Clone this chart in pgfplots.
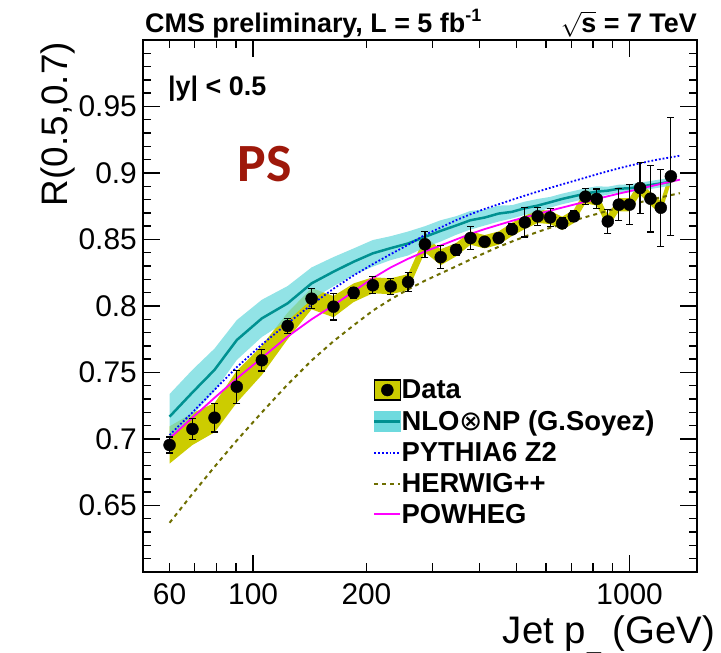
\documentclass[border=0pt]{standalone}
\usepackage{fontspec}
\setmainfont{Liberation Sans}
\newfontfamily\carlito{Carlito}
\newfontfamily\dejavu{DejaVu Sans}
\usepackage{pgfplots}
\pgfplotsset{compat=1.18}
\usepackage{pgfplotstable}
\usepgfplotslibrary{fillbetween}
\usetikzlibrary{calc}

\definecolor{dyellow}{RGB}{204,204,0}
\definecolor{cyanband}{RGB}{110,218,222}
\definecolor{tealline}{RGB}{0,145,145}
\definecolor{herwigc}{RGB}{110,110,0}
\definecolor{psred}{RGB}{158,24,10}
\definecolor{powhegc}{RGB}{255,0,255}
\definecolor{pythiac}{RGB}{0,0,255}

% data: pt, ratio, stat error, syst half-width
\pgfplotstableread{
pt r stat sys
60 0.6955 0.006 0.014
69 0.7075 0.008 0.012
79 0.716 0.0107 0.011
90.5 0.7393 0.0125 0.012
105.5 0.7592 0.008 0.011
123.5 0.785 0.0056 0.010
143 0.8055 0.0075 0.008
163.5 0.7995 0.010 0.008
185 0.810 0.004 0.007
208 0.8156 0.0063 0.006
232 0.8148 0.006 0.006
258 0.8180 0.007 0.006
286 0.8464 0.0099 0.006
315 0.8367 0.0088 0.006
346 0.8423 0.004 0.005
378 0.8511 0.0088 0.005
412 0.8483 0.003 0.005
449 0.8511 0.003 0.005
487 0.8576 0.004 0.005
527 0.8629 0.011 0.005
570 0.8674 0.0066 0.005
615 0.8666 0.0069 0.005
662 0.8621 0.004 0.005
711 0.8674 0.004 0.005
763 0.8822 0.006 0.005
818 0.8805 0.0074 0.005
875 0.8636 0.0091 0.005
936 0.8762 0.012 0.005
999 0.8762 0.015 0.005
1066 0.8887 0.0194 0.005
1136 0.8807 0.025 0.005
1210 0.8739 0.029 0.005
1287 0.8975 0.0445 0.005
}\datatab

% NLO x NP: central value and half-width of band
\pgfplotstableread{
pt r e
60 0.7168 0.017
69 0.735 0.017
79 0.752 0.016
90.5 0.7744 0.015
105.5 0.7907 0.014
123.5 0.802 0.013
143 0.817 0.012
163.5 0.8258 0.011
185 0.8333 0.010
208 0.8396 0.010
232 0.8435 0.009
258 0.8470 0.009
286 0.852 0.008
315 0.8565 0.008
346 0.8605 0.007
378 0.8645 0.007
412 0.8665 0.006
449 0.8695 0.006
487 0.8708 0.005
527 0.8735 0.005
570 0.8755 0.005
615 0.878 0.004
662 0.8805 0.004
711 0.8825 0.004
763 0.8845 0.004
818 0.886 0.004
875 0.8867 0.003
936 0.8882 0.003
999 0.8885 0.003
1066 0.8897 0.003
1136 0.891 0.003
1210 0.8922 0.003
1287 0.8935 0.003
}\nlotab

% MC generators
\pgfplotstableread{
pt pythia herwig powheg
60 0.703 0.637 0.7005
69 0.720 0.6587 0.716
79 0.737 0.6791 0.731
90.5 0.754 0.6989 0.7455
105.5 0.771 0.720 0.761
123.5 0.787 0.741 0.777
143 0.801 0.759 0.790
163.5 0.813 0.7735 0.8005
185 0.823 0.7855 0.811
208 0.8315 0.7965 0.821
232 0.839 0.8050 0.829
258 0.846 0.8125 0.8355
286 0.8535 0.8190 0.841
315 0.859 0.8245 0.8455
346 0.8645 0.8298 0.850
378 0.869 0.8350 0.8542
412 0.873 0.8398 0.8578
449 0.8765 0.8445 0.861
487 0.8798 0.8485 0.864
527 0.883 0.8522 0.8667
570 0.886 0.8557 0.8692
615 0.8888 0.8588 0.8716
662 0.8915 0.8616 0.874
711 0.894 0.8643 0.8762
763 0.8965 0.8668 0.8784
818 0.899 0.8692 0.8805
875 0.9013 0.8716 0.8825
936 0.9035 0.8739 0.8845
999 0.9055 0.876 0.8863
1066 0.9073 0.878 0.8882
1136 0.909 0.8799 0.890
1210 0.9105 0.8817 0.8918
1287 0.9118 0.8834 0.8935
1360 0.913 0.8848 0.895
}\mctab

\begin{document}
\begin{tikzpicture}
\begin{axis}[
    at={(0,0)}, anchor=south west,
    scale only axis, width=554bp, height=532bp,
    clip=false,
    xmode=log, xmin=51, xmax=1510,
    ymin=0.6, ymax=1.0,
    log ticks with fixed point,
    xtick={100,1000}, xticklabels={100,1000},
    extra x ticks={60,200}, extra x tick labels={60,200},
    extra x tick style={major tick length=8.5bp},
    minor xtick={60,70,80,90,200,300,400,500,600,700,800,900},
    ytick={0.6,0.65,0.7,0.75,0.8,0.85,0.9,0.95,1.0},
    yticklabels={,0.65,0.7,0.75,0.8,0.85,0.9,0.95,},
    minor y tick num=4,
    tick align=inside,
    major tick length=17bp, minor tick length=8.5bp,
    every tick/.style={black, line width=1.4bp},
    axis line style={line width=2.4bp},
    tick label style={font=\fontsize{30}{30}\selectfont, inner sep=0pt},
    yticklabel style={xshift=-6bp},
    xticklabel style={yshift=-11bp},
    legend style={draw=none, fill=none, at={(0.415,0.3623)}, anchor=north west,
        inner sep=0pt, font=\bfseries\fontsize{27.5}{30}\selectfont, row sep=10.2bp,
        nodes={inner sep=0pt},
        /tikz/every even column/.append style={column sep=6bp},
        /tikz/every odd column/.append style={text height=21.5bp, text depth=0bp}},
    legend cell align=left,
]
% systematic band of data
\addplot[draw=none, name path=dup, forget plot] table[x=pt, y expr=\thisrow{r}+\thisrow{sys}] {\datatab};
\addplot[draw=none, name path=dlo, forget plot] table[x=pt, y expr=\thisrow{r}-\thisrow{sys}] {\datatab};
\addplot[dyellow, forget plot] fill between[of=dup and dlo];
% NLO band
\addplot[draw=none, name path=nup, forget plot] table[x=pt, y expr=\thisrow{r}+\thisrow{e}] {\nlotab};
\addplot[draw=none, name path=nlo, forget plot] table[x=pt, y expr=\thisrow{r}-\thisrow{e}] {\nlotab};
\addplot[cyanband, fill opacity=0.75, forget plot] fill between[of=nup and nlo];
\addplot[tealline, line width=2.5bp, forget plot] table[x=pt, y=r] {\nlotab};
% generators
\addplot[pythiac, dotted, line width=1.8bp, forget plot] table[x=pt, y=pythia] {\mctab};
\addplot[herwigc, dash pattern=on 4bp off 4bp, line width=2bp, forget plot] table[x=pt, y=herwig] {\mctab};
\addplot[powhegc, line width=1.8bp, forget plot] table[x=pt, y=powheg] {\mctab};
% data
\addplot[only marks, mark=*, mark size=6bp, black, forget plot,
    error bars/.cd, y dir=both, y explicit,
    error mark=-,
    error bar style={line width=1.2bp, black},
    error mark options={rotate=90, mark size=3.5bp, line width=1.2bp, black}]
    table[x=pt, y=r, y error=stat] {\datatab};

% legend
\addlegendimage{legend image code/.code={
    \draw[black, line width=1.2bp, fill=dyellow] (0bp,-10bp) rectangle (26bp,10bp);
    \fill[black] (13bp,0bp) circle (6bp);}}
\addlegendentry{Data}
\addlegendimage{legend image code/.code={
    \fill[cyanband] (0bp,-10bp) rectangle (26bp,10bp);
    \draw[tealline, line width=2.5bp] (0bp,0bp) -- (26bp,0bp);}}
\addlegendentry{NLO{\dejavu\mdseries ⊗}NP (G.Soyez)}
\addlegendimage{legend image code/.code={
    \draw[pythiac, dotted, line width=1.8bp] (0bp,0bp) -- (26bp,0bp);}}
\addlegendentry{PYTHIA6 Z2}
\addlegendimage{legend image code/.code={
    \draw[herwigc, dash pattern=on 4bp off 4bp, line width=2bp] (0bp,0bp) -- (26bp,0bp);}}
\addlegendentry{HERWIG++}
\addlegendimage{legend image code/.code={
    \draw[powhegc, line width=1.8bp] (0bp,0bp) -- (26bp,0bp);}}
\addlegendentry{POWHEG}

% texts
\node[anchor=base west, inner sep=0pt, font=\bfseries\fontsize{27}{30}\selectfont]
    at ($(rel axis cs:0,1)+(2bp,7.5bp)$) {CMS preliminary, L = 5 fb\raisebox{0.42em}{\fontsize{18}{18}\selectfont -1}};
\node[anchor=base east, inner sep=0pt, font=\bfseries\fontsize{27}{30}\selectfont]
    at ($(rel axis cs:1,1)+(0bp,7.5bp)$) {\raisebox{0pt}[20bp][0pt]{$\sqrt{\mbox{s}}$} = 7 TeV};
\node[anchor=base west, inner sep=0pt, font=\bfseries\fontsize{27}{28}\selectfont]
    at (rel axis cs:0.0451,0.8966) {|y| < 0.5};
\node[inner sep=0pt, text=psred, font=\carlito\bfseries\fontsize{54}{54}\selectfont]
    at (rel axis cs:0.2193,0.766) {PS};
\node[rotate=90, anchor=base east, inner sep=0pt, font=\fontsize{37}{37}\selectfont]
    at ($(rel axis cs:0,1)+(-75bp,-2bp)$) {R(0.5,0.7)};
\node[anchor=base east, inner sep=0pt, font=\fontsize{38.5}{38.5}\selectfont]
    at ($(rel axis cs:1,0)+(18bp,-71bp)$) {Jet p\raisebox{-27bp}{\fontsize{26}{26}\selectfont T} (GeV)};
\end{axis}
\pgfresetboundingbox
\path[use as bounding box] (-143bp,-81bp) rectangle (578bp,572bp);
\end{tikzpicture}
\end{document}
